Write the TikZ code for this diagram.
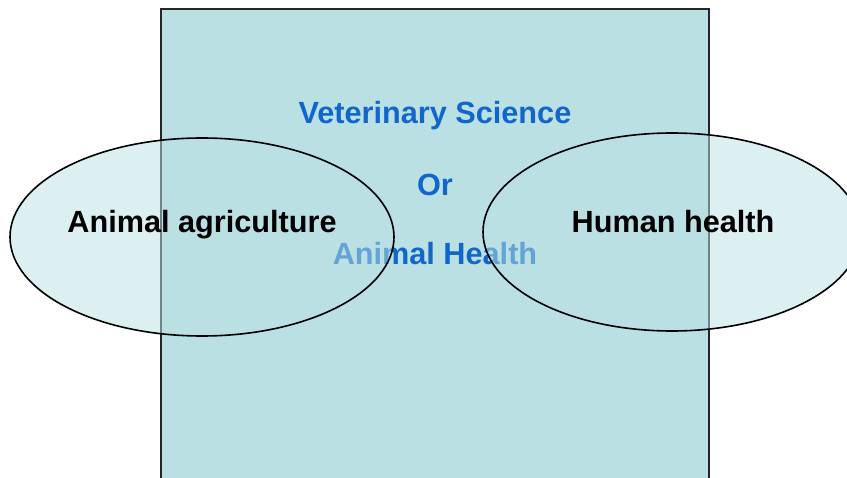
\documentclass[tikz,border=0pt]{standalone}
\usepackage{fontspec}
\setmainfont{Liberation Sans}
\definecolor{boxfill}{HTML}{BAE0E3}
\definecolor{vetblue}{HTML}{1166CC}
\begin{document}
\begin{tikzpicture}[x=0.75pt,y=-0.75pt,
  lbl/.style={font=\fontsize{23}{27}\selectfont\bfseries, inner sep=0pt},
  circ/.style={draw=black, line width=1.2pt, fill=boxfill, fill opacity=0.5}]
\useasboundingbox (0,0) rectangle (847,478);
\begin{scope}
\clip (0,0) rectangle (847,478);
\filldraw[fill=boxfill, draw=black!85, line width=1.1pt] (161,9) rectangle (709,500);
\node[lbl, text=vetblue] (vet) at (435,116) {Veterinary Science};
\node[lbl, text=vetblue] (or) at (435,185) {Or};
\node[lbl, text=vetblue] (ah) at (435,254) {Animal Health};
\draw[circ] (202,237) ellipse [x radius=192, y radius=99];
\draw[circ] (672,232) ellipse [x radius=189, y radius=99];
\node[lbl] (agri) at (202,225) {Animal agriculture};
\node[lbl] (human) at (673,222) {Human health};
\end{scope}
\end{tikzpicture}
\end{document}
